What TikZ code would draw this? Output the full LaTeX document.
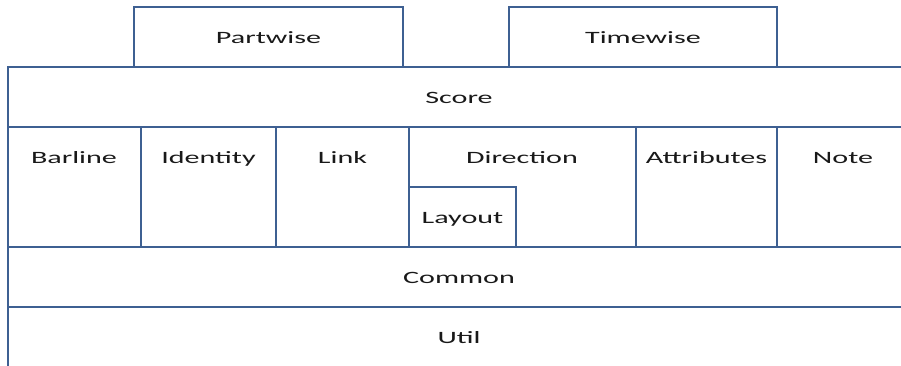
\documentclass[tikz,border=0pt]{standalone}
\usepackage{graphicx}
\usepackage{fontspec}
\setmainfont{Carlito}
\definecolor{edge}{RGB}{62,96,146}
\newcommand{\widetext}[1]{\scalebox{1.74}[1]{#1}}
\tikzset{
  part/.style={draw=edge, line width=2.4pt},
  lbl/.style={inner sep=0pt, anchor=base, font=\fontsize{17.3}{20}\selectfont, text=black!90}
}
\begin{document}
\begin{tikzpicture}[x=1pt, y=-1pt]
\useasboundingbox (0,0) rectangle (901,365);
\clip (0,0) rectangle (901,365);
% top packages
\draw[part] (134,7) rectangle (403,67);
\draw[part] (509,7) rectangle (777,67);
% score band
\draw[part] (8,67) rectangle (912,127);
% middle row
\draw[part] (8,127) rectangle (141,247);
\draw[part] (141,127) rectangle (276,247);
\draw[part] (276,127) rectangle (409,247);
\draw[part] (409,127) rectangle (636,247);
\draw[part] (409,187) rectangle (516,247);
\draw[part] (636,127) rectangle (777,247);
\draw[part] (777,127) rectangle (912,247);
% lower bands
\draw[part] (8,247) rectangle (912,307);
\draw[part] (8,307) rectangle (912,380);
% labels, placed on their baselines
\node[lbl] (partwise) at (268.5,43) {\widetext{Partwise}};
\node[lbl] (timewise) at (643,43) {\widetext{Timewise}};
\node[lbl] (score) at (459,103) {\widetext{Score}};
\node[lbl] (barline) at (74,163) {\widetext{Barline}};
\node[lbl] (identity) at (208.5,163) {\widetext{Identity}};
\node[lbl] (link) at (342.5,163) {\widetext{Link}};
\node[lbl] (direction) at (522,163) {\widetext{Direction}};
\node[lbl] (layout) at (462.5,223) {\widetext{Layout}};
\node[lbl] (attributes) at (706.5,163) {\widetext{Attributes}};
\node[lbl] (note) at (843,163) {\widetext{Note}};
\node[lbl] (common) at (459,283) {\widetext{Common}};
\node[lbl] (util) at (459,343) {\widetext{Util}};
\end{tikzpicture}
\end{document}
